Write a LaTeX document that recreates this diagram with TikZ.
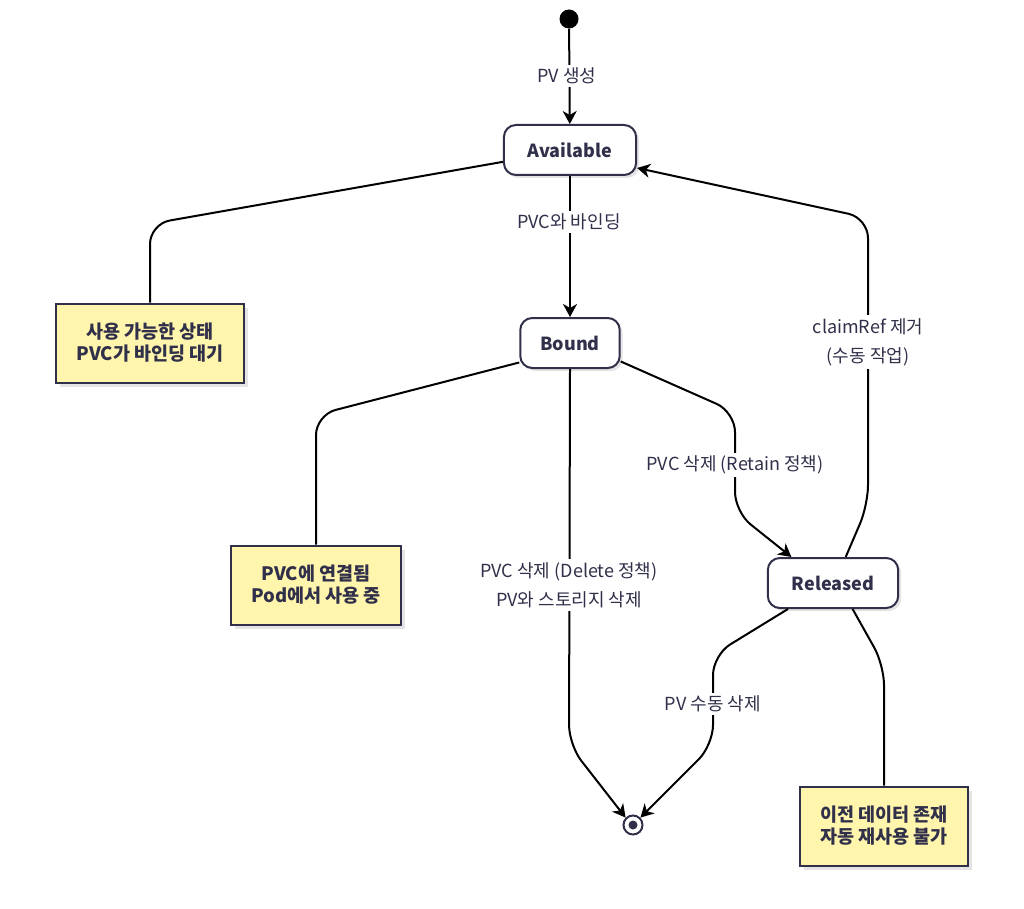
\documentclass[tikz,border=0pt]{standalone}
\usepackage{fontspec}
\setmainfont{Noto Sans CJK KR}
\usetikzlibrary{arrows.meta}
\usetikzlibrary{shadows}
\definecolor{ink}{HTML}{30304A}
\definecolor{notefill}{HTML}{FFF5AD}
\tikzset{state/.style={draw=ink,line width=2pt,fill=white,rounded corners=12pt,
   minimum height=50pt,inner xsep=24pt,text=ink,
   font=\fontsize{18}{21}\selectfont\bfseries,
   drop shadow={shadow xshift=3pt,shadow yshift=-3pt,fill=black!30,opacity=0.35}},
 note/.style={draw=ink,line width=2pt,fill=notefill,minimum height=79pt,
   inner xsep=20pt,align=center,text=ink,font=\fontsize{18.5}{22}\selectfont\bfseries,
   drop shadow={shadow xshift=4pt,shadow yshift=-4pt,fill=black!30,opacity=0.35}},
 trans/.style={draw=black,line width=2pt,rounded corners=20pt},
 arr/.style={-{Stealth[length=13pt,width=14pt,inset=4pt]}},
 lbl/.style={fill=white,text=ink,font=\fontsize{18}{29}\selectfont,align=center,inner sep=3pt},
 }

\begin{document}
\begin{tikzpicture}[x=1pt,y=-1pt]
    \useasboundingbox (0,0) rectangle (1024,909);
    \node[circle,fill=black,minimum size=19pt,inner sep=0pt] (init) at (569,19) {};
    \node[state] (avail) at (570,150) {Available};
    \node[state,inner xsep=20pt] (bound) at (570,343) {Bound};
    \node[state] (released) at (833,583) {Released};
    \node[circle,draw=ink,line width=2pt,fill=white,minimum size=19pt,inner sep=0pt] (final) at (633,825) {};
    \fill[ink] (final.center) circle (4.5pt);
    \node[note] (availnote) at (150,343) {사용 가능한 상태\\PVC가 바인딩 대기};
    \node[note] (boundnote) at (316,585) {PVC에 연결됨\\Pod에서 사용 중};
    \node[note] (relnote) at (884,826) {이전 데이터 존재\\자동 재사용 불가};

    \draw[trans,arr] (init) -- (avail);
    \draw[trans,arr] (avail) -- (bound);
    \draw[trans] (avail.190) -- (150,224) -- (availnote.north);
    \draw[trans] (bound.201) -- (316,415) -- (boundnote.north);
    \draw[trans,arr] (bound.south) -- (569,745) -- (final.135);
    \draw[trans,arr] (bound.-20) -- (735,412) -- (735,512) -- (released.148);
    \draw[trans,arr] (released.64) -- (868,505) -- (868,218) -- (avail.-15);
    \draw[trans,arr] (released.210) -- (713,655) -- (713,745) -- (final.45);
    \draw[trans] (released.-53) -- (884,665) -- (relnote.north);

    \node[lbl] (lcreate) at (567,76) {PV 생성};
    \node[lbl] (lbind) at (569,222) {PVC와 바인딩};
    \node[lbl] (ldelete) at (569,585) {PVC 삭제 (Delete 정책)\\PV와 스토리지 삭제};
    \node[lbl] (lretain) at (735,465) {PVC 삭제 (Retain 정책)};
    \node[lbl] (lclaim) at (868,342) {claimRef 제거\\(수동 작업)};
    \node[lbl] (lmanual) at (713,704) {PV 수동 삭제};
\end{tikzpicture}
\end{document}
